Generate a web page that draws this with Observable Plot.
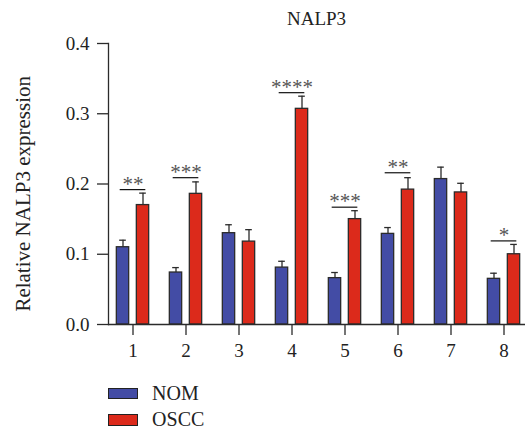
<!DOCTYPE html>
<html>
<head>
<meta charset="utf-8">
<script src="https://cdn.jsdelivr.net/npm/d3@7"></script>
<script src="https://cdn.jsdelivr.net/npm/@observablehq/plot@0.6"></script>
<style>
  html, body { margin: 0; padding: 0; background: #fff; }
  body { width: 525px; font-family: "Liberation Serif", serif; color: #222; }
  .title { box-sizing: border-box; height: 30px; padding: 9px 0 0 108px; line-height: 19px; font-size: 19px; text-align: center; }
  .legend { padding-left: 108px; }
  .legend .row { display: flex; align-items: center; height: 26.6px; font-size: 20px; }
  .legend .sw { box-sizing: border-box; width: 29.5px; height: 11.5px; border: 1.2px solid #222; margin-right: 14.6px; }
</style>
</head>
<body>
<div class="title">NALP3</div>
<div id="chart"></div>
<div class="legend" id="legend"></div>
<script>
// Sample groups along the x axis
const groups = ["1", "2", "3", "4", "5", "6", "7", "8"];
// Mean relative NALP3 expression and upper error (SD) per group
const nomMean = [0.110, 0.074, 0.130, 0.081, 0.066, 0.129, 0.207, 0.065];
const nomErr  = [0.010, 0.007, 0.012, 0.009, 0.008, 0.009, 0.017, 0.008];
const osccMean = [0.170, 0.186, 0.118, 0.307, 0.150, 0.192, 0.188, 0.100];
const osccErr  = [0.017, 0.017, 0.017, 0.018, 0.012, 0.017, 0.013, 0.014];
// Significance marks and the height of their bracket lines
const sigLabel = ["**", "***", "", "****", "***", "**", "", "*"];
const sigLevel = [0.192, 0.209, null, 0.330, 0.167, 0.216, null, 0.119];
// Y axis ticks
const yTicks = [0.0, 0.1, 0.2, 0.3, 0.4];

const series = [
  {name: "NOM", color: "#434ca5", mean: nomMean, err: nomErr, side: -1},
  {name: "OSCC", color: "#dc2a1b", mean: osccMean, err: osccErr, side: 1}
];

const rows = series.map(s => groups.map((g, i) => ({
  group: g, series: s.name, value: s.mean[i], top: s.mean[i] + s.err[i]
})));
const sig = groups.map((g, i) => ({group: g, label: sigLabel[i], level: sigLevel[i]}))
  .filter(d => d.level != null);

const step = 53.36;
const start = 131.5 - step / 2;
const half = step / 2;
const barW = 12.7, off = 10, capW = 7, bracketW = 26;
const ink = "#2b2b2b";

const marks = [];
series.forEach((s, k) => {
  const data = rows[k];
  const c = s.side * off;
  marks.push(Plot.barY(data, {
    x: "group", y: "value", fill: s.color, stroke: ink, strokeWidth: 1.3,
    insetLeft: half + c - barW / 2, insetRight: half - c - barW / 2
  }));
  marks.push(Plot.ruleX(data, {x: "group", y1: "value", y2: "top", dx: c, stroke: ink, strokeWidth: 1.3}));
  marks.push(Plot.tickY(data, {
    x: "group", y: "top", stroke: ink, strokeWidth: 1.3,
    insetLeft: half + c - capW / 2, insetRight: half - c - capW / 2
  }));
});

const chart = Plot.plot({
  width: 525,
  height: 350,
  marginLeft: 108,
  marginRight: 0,
  marginTop: 13,
  marginBottom: 56,
  style: {fontFamily: "Liberation Serif, serif", fontSize: "19px", color: "#222", background: "#fff"},
  x: {type: "band", domain: groups, range: [start, start + step * groups.length], padding: 0},
  y: {domain: [0, 0.4]},
  marks: [
    ...marks,
    Plot.tickY(sig, {x: "group", y: "level", stroke: "#111", strokeWidth: 1.2,
      insetLeft: half - bracketW / 2, insetRight: half - bracketW / 2}),
    Plot.text(sig, {x: "group", y: "level", text: "label", lineAnchor: "bottom", dy: 1,
      fontSize: 21, fill: "#555"}),
    Plot.ruleY([0], {stroke: ink, strokeWidth: 1.3}),
    Plot.frame({anchor: "left", stroke: ink, strokeWidth: 1.3}),
    Plot.axisY({ticks: yTicks, tickFormat: ".1f", tickSize: 11, tickPadding: 8, label: null,
      fontSize: 19, stroke: ink, strokeWidth: 1.3}),
    Plot.axisX({tickSize: 11, tickPadding: 8, label: null, fontSize: 19, stroke: ink, strokeWidth: 1.3}),
    Plot.text(["Relative NALP3 expression"], {frameAnchor: "left", rotate: -90, lineAnchor: "bottom",
      textAnchor: "middle", dx: -78.7, dy: 9.8, fontSize: 21, fill: "#222"})
  ]
});
document.getElementById("chart").appendChild(chart);

const legend = document.getElementById("legend");
series.forEach(s => {
  const row = document.createElement("div");
  row.className = "row";
  const sw = document.createElement("span");
  sw.className = "sw";
  sw.style.background = s.color;
  const label = document.createElement("span");
  label.textContent = s.name;
  row.append(sw, label);
  legend.appendChild(row);
});
</script>
</body>
</html>
